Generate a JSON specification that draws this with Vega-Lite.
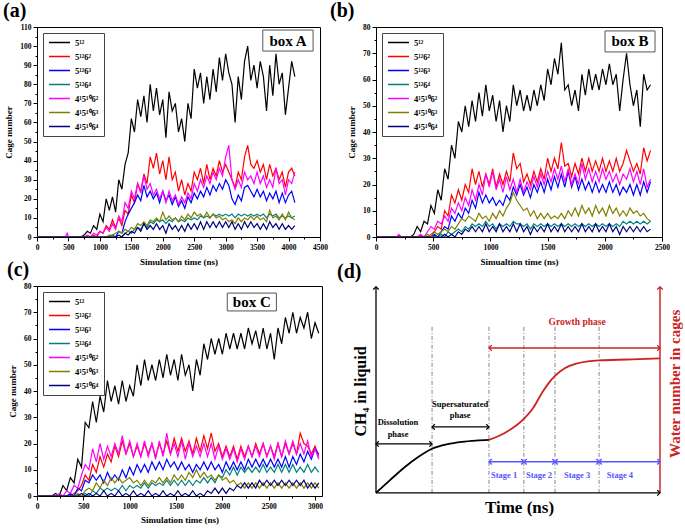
{
"$schema": "https://vega.github.io/schema/vega-lite/v6.json",
"background": "white",
"padding": {"left": 2, "top": 0, "right": 0, "bottom": 0},
"columns": 2,
"bounds": "flush",
"spacing": {"row": 49, "column": 54},
"resolve": {"scale": {"color": "independent"}, "legend": {"color": "independent"}},
"config": {
  "font": "Liberation Serif",
  "view": {"stroke": "black", "strokeWidth": 1},
  "axis": {"labelFont": "Liberation Serif", "labelFontWeight": "bold", "labelFontSize": 7.5, "labelColor": "black", "titleFont": "Liberation Serif", "titleFontWeight": "bold", "titleFontSize": 9, "titleColor": "black", "domainColor": "black", "tickColor": "black", "grid": false, "labelPadding": 2, "labelFlush": false, "labelOverlap": false},
  "axisX": {"titlePadding": 7},
  "axisY": {"titlePadding": 6},
  "legend": {"orient": "top-left", "offset": 6, "strokeColor": "#444", "fillColor": "white", "padding": 5, "labelFont": "Liberation Serif", "labelFontWeight": "bold", "labelFontSize": 8.5, "labelColor": "black", "symbolStrokeWidth": 1.5, "symbolSize": 440, "clipHeight": 9, "rowPadding": 5, "labelOffset": 4},
  "title": {"font": "Liberation Serif", "fontWeight": "bold", "fontSize": 20, "anchor": "start", "frame": "group", "color": "black"}
},
"datasets": {
"a": [
{"x":0,"k":0,"r":0,"b":0,"c":0,"m":0,"o":0,"n":0},
{"x":450,"k":0,"r":0,"b":0,"c":0,"m":0,"o":0,"n":0},
{"x":480,"k":0,"r":0,"b":0,"c":0,"m":2,"o":0,"n":0},
{"x":500,"k":0,"r":0,"b":0,"c":0,"m":0,"o":0,"n":0},
{"x":700,"k":0,"r":0,"b":0,"c":0,"m":0,"o":0,"n":0},
{"x":750,"k":1,"r":0,"b":0,"c":0,"m":0,"o":0,"n":0},
{"x":800,"k":3,"r":0,"b":0,"c":0,"m":1,"o":0,"n":0},
{"x":850,"k":2,"r":0,"b":0,"c":0,"m":0,"o":0,"n":0},
{"x":900,"k":6,"r":1,"b":0,"c":0,"m":2,"o":0,"n":0},
{"x":950,"k":4,"r":0,"b":0,"c":0,"m":1,"o":0,"n":0},
{"x":1000,"k":12,"r":3,"b":0,"c":0,"m":3,"o":0,"n":0},
{"x":1050,"k":8,"r":2,"b":0,"c":0,"m":2,"o":0,"n":0},
{"x":1100,"k":20,"r":6,"b":0,"c":0,"m":5,"o":0,"n":0},
{"x":1150,"k":14,"r":4,"b":0,"c":0,"m":3,"o":1,"n":0},
{"x":1200,"k":21,"r":9,"b":1,"c":0,"m":7,"o":1,"n":0},
{"x":1250,"k":13,"r":5,"b":0,"c":0,"m":4,"o":2,"n":0},
{"x":1300,"k":30,"r":10,"b":3,"c":1,"m":11,"o":3,"n":1},
{"x":1350,"k":25,"r":6,"b":2,"c":0,"m":8,"o":2,"n":0},
{"x":1400,"k":38,"r":14,"b":8,"c":2,"m":18,"o":4,"n":2},
{"x":1450,"k":44,"r":12,"b":12,"c":3,"m":15,"o":3,"n":1},
{"x":1500,"k":62,"r":22,"b":15,"c":2,"m":24,"o":5,"n":3},
{"x":1550,"k":55,"r":18,"b":18,"c":4,"m":20,"o":4,"n":2},
{"x":1600,"k":72,"r":28,"b":22,"c":5,"m":28,"o":7,"n":5},
{"x":1650,"k":63,"r":24,"b":19,"c":4,"m":23,"o":6,"n":3},
{"x":1700,"k":74,"r":33,"b":27,"c":7,"m":32,"o":8,"n":7},
{"x":1750,"k":60,"r":28,"b":21,"c":5,"m":25,"o":6,"n":4},
{"x":1800,"k":80,"r":42,"b":24,"c":8,"m":28,"o":9,"n":6},
{"x":1850,"k":66,"r":36,"b":20,"c":7,"m":22,"o":8,"n":4},
{"x":1900,"k":78,"r":44,"b":23,"c":9,"m":25,"o":10,"n":7},
{"x":1950,"k":64,"r":33,"b":18,"c":8,"m":20,"o":8,"n":4},
{"x":2000,"k":72,"r":40,"b":24,"c":9,"m":24,"o":13,"n":6},
{"x":2050,"k":52,"r":30,"b":19,"c":7,"m":18,"o":9,"n":2},
{"x":2100,"k":76,"r":42,"b":22,"c":9,"m":24,"o":11,"n":7},
{"x":2150,"k":66,"r":30,"b":17,"c":8,"m":19,"o":9,"n":4},
{"x":2200,"k":70,"r":34,"b":21,"c":10,"m":22,"o":10,"n":6},
{"x":2250,"k":55,"r":24,"b":16,"c":8,"m":17,"o":8,"n":3},
{"x":2300,"k":62,"r":30,"b":19,"c":9,"m":21,"o":11,"n":6},
{"x":2350,"k":50,"r":22,"b":15,"c":8,"m":18,"o":9,"n":3},
{"x":2400,"k":70,"r":28,"b":21,"c":10,"m":23,"o":12,"n":7},
{"x":2450,"k":62,"r":24,"b":18,"c":9,"m":20,"o":10,"n":4},
{"x":2500,"k":88,"r":34,"b":23,"c":10,"m":28,"o":13,"n":7},
{"x":2550,"k":78,"r":30,"b":20,"c":9,"m":24,"o":11,"n":4},
{"x":2600,"k":86,"r":36,"b":24,"c":11,"m":30,"o":12,"n":8},
{"x":2650,"k":70,"r":28,"b":21,"c":10,"m":26,"o":10,"n":4},
{"x":2700,"k":84,"r":38,"b":26,"c":11,"m":32,"o":13,"n":8},
{"x":2750,"k":72,"r":30,"b":22,"c":10,"m":28,"o":10,"n":5},
{"x":2800,"k":88,"r":36,"b":27,"c":12,"m":34,"o":12,"n":8},
{"x":2850,"k":76,"r":32,"b":24,"c":11,"m":30,"o":10,"n":5},
{"x":2900,"k":94,"r":40,"b":28,"c":12,"m":36,"o":11,"n":8},
{"x":2950,"k":82,"r":34,"b":25,"c":11,"m":32,"o":9,"n":5},
{"x":3000,"k":96,"r":38,"b":30,"c":12,"m":42,"o":10,"n":8},
{"x":3050,"k":86,"r":34,"b":27,"c":11,"m":48,"o":8,"n":5},
{"x":3100,"k":80,"r":30,"b":20,"c":12,"m":30,"o":9,"n":8},
{"x":3150,"k":60,"r":26,"b":17,"c":10,"m":25,"o":7,"n":4},
{"x":3200,"k":84,"r":34,"b":22,"c":12,"m":30,"o":10,"n":7},
{"x":3250,"k":72,"r":30,"b":19,"c":11,"m":26,"o":8,"n":4},
{"x":3300,"k":92,"r":42,"b":26,"c":12,"m":34,"o":10,"n":8},
{"x":3350,"k":100,"r":48,"b":27,"c":11,"m":30,"o":9,"n":5},
{"x":3400,"k":82,"r":38,"b":24,"c":12,"m":32,"o":11,"n":8},
{"x":3450,"k":90,"r":36,"b":21,"c":11,"m":28,"o":9,"n":5},
{"x":3500,"k":78,"r":40,"b":25,"c":12,"m":34,"o":11,"n":7},
{"x":3550,"k":92,"r":34,"b":21,"c":11,"m":28,"o":9,"n":4},
{"x":3600,"k":84,"r":38,"b":24,"c":12,"m":32,"o":10,"n":7},
{"x":3650,"k":66,"r":30,"b":19,"c":10,"m":26,"o":8,"n":4},
{"x":3700,"k":90,"r":38,"b":23,"c":12,"m":30,"o":14,"n":8},
{"x":3750,"k":74,"r":32,"b":20,"c":11,"m":26,"o":10,"n":5},
{"x":3800,"k":96,"r":36,"b":24,"c":12,"m":36,"o":11,"n":7},
{"x":3850,"k":80,"r":30,"b":18,"c":10,"m":28,"o":9,"n":4},
{"x":3900,"k":86,"r":34,"b":23,"c":11,"m":30,"o":12,"n":7},
{"x":3950,"k":64,"r":26,"b":18,"c":10,"m":22,"o":9,"n":4},
{"x":4000,"k":78,"r":34,"b":22,"c":11,"m":30,"o":13,"n":6},
{"x":4050,"k":92,"r":36,"b":24,"c":10,"m":28,"o":10,"n":4},
{"x":4100,"k":84,"r":32,"b":18,"c":11,"m":34,"o":9,"n":6}
],
"b": [
{"x":0,"k":0,"r":0,"b":0,"c":0,"m":0,"o":0,"n":0},
{"x":180,"k":0,"r":0,"b":0,"c":0,"m":0,"o":0,"n":0},
{"x":200,"k":0,"r":0,"b":0,"c":0,"m":1,"o":0,"n":0},
{"x":220,"k":0,"r":0,"b":0,"c":0,"m":0,"o":0,"n":0},
{"x":300,"k":0,"r":0,"b":0,"c":0,"m":0,"o":0,"n":0},
{"x":330,"k":1,"r":0,"b":0,"c":0,"m":0,"o":0,"n":0},
{"x":360,"k":4,"r":0,"b":0,"c":0,"m":0,"o":0,"n":0},
{"x":390,"k":2,"r":0,"b":0,"c":0,"m":1,"o":0,"n":0},
{"x":420,"k":6,"r":0,"b":0,"c":0,"m":0,"o":0,"n":0},
{"x":450,"k":5,"r":0,"b":0,"c":0,"m":2,"o":1,"n":0},
{"x":480,"k":12,"r":1,"b":0,"c":0,"m":4,"o":0,"n":0},
{"x":510,"k":9,"r":2,"b":1,"c":0,"m":3,"o":2,"n":0},
{"x":540,"k":18,"r":4,"b":0,"c":0,"m":6,"o":1,"n":0},
{"x":570,"k":14,"r":3,"b":2,"c":1,"m":5,"o":2,"n":0},
{"x":600,"k":26,"r":10,"b":4,"c":0,"m":8,"o":3,"n":1},
{"x":630,"k":22,"r":8,"b":3,"c":2,"m":6,"o":2,"n":0},
{"x":660,"k":35,"r":16,"b":8,"c":1,"m":11,"o":4,"n":1},
{"x":690,"k":30,"r":13,"b":6,"c":2,"m":9,"o":3,"n":0},
{"x":720,"k":44,"r":18,"b":9,"c":3,"m":13,"o":5,"n":2},
{"x":750,"k":40,"r":14,"b":7,"c":2,"m":10,"o":7,"n":1},
{"x":780,"k":50,"r":20,"b":11,"c":4,"m":15,"o":6,"n":3},
{"x":810,"k":42,"r":17,"b":9,"c":3,"m":12,"o":8,"n":2},
{"x":840,"k":52,"r":26,"b":14,"c":5,"m":18,"o":7,"n":4},
{"x":870,"k":44,"r":20,"b":11,"c":4,"m":14,"o":6,"n":2},
{"x":900,"k":55,"r":25,"b":17,"c":5,"m":20,"o":9,"n":4},
{"x":930,"k":46,"r":19,"b":13,"c":4,"m":16,"o":7,"n":2},
{"x":960,"k":58,"r":24,"b":16,"c":6,"m":24,"o":8,"n":5},
{"x":990,"k":48,"r":20,"b":13,"c":4,"m":19,"o":6,"n":2},
{"x":1020,"k":54,"r":26,"b":15,"c":5,"m":25,"o":9,"n":4},
{"x":1050,"k":44,"r":19,"b":12,"c":3,"m":18,"o":7,"n":2},
{"x":1080,"k":52,"r":24,"b":14,"c":5,"m":22,"o":10,"n":5},
{"x":1110,"k":40,"r":20,"b":12,"c":4,"m":17,"o":8,"n":2},
{"x":1140,"k":50,"r":25,"b":16,"c":5,"m":23,"o":11,"n":4},
{"x":1170,"k":44,"r":21,"b":14,"c":4,"m":18,"o":13,"n":2},
{"x":1200,"k":58,"r":32,"b":19,"c":6,"m":22,"o":17,"n":5},
{"x":1230,"k":50,"r":26,"b":16,"c":5,"m":17,"o":14,"n":2},
{"x":1260,"k":56,"r":28,"b":20,"c":5,"m":22,"o":12,"n":5},
{"x":1290,"k":48,"r":21,"b":16,"c":4,"m":17,"o":10,"n":2},
{"x":1320,"k":54,"r":24,"b":19,"c":5,"m":21,"o":11,"n":4},
{"x":1350,"k":48,"r":20,"b":15,"c":3,"m":18,"o":8,"n":1},
{"x":1380,"k":56,"r":25,"b":20,"c":5,"m":23,"o":10,"n":4},
{"x":1410,"k":50,"r":21,"b":17,"c":4,"m":19,"o":7,"n":2},
{"x":1440,"k":58,"r":26,"b":21,"c":5,"m":24,"o":9,"n":4},
{"x":1470,"k":52,"r":22,"b":17,"c":4,"m":20,"o":7,"n":2},
{"x":1500,"k":64,"r":30,"b":22,"c":5,"m":25,"o":9,"n":5},
{"x":1530,"k":58,"r":25,"b":18,"c":4,"m":21,"o":7,"n":2},
{"x":1560,"k":68,"r":30,"b":23,"c":5,"m":26,"o":8,"n":4},
{"x":1590,"k":62,"r":26,"b":19,"c":4,"m":22,"o":7,"n":2},
{"x":1620,"k":74,"r":36,"b":24,"c":5,"m":27,"o":9,"n":5},
{"x":1650,"k":56,"r":27,"b":19,"c":4,"m":21,"o":7,"n":2},
{"x":1680,"k":58,"r":28,"b":25,"c":5,"m":26,"o":10,"n":4},
{"x":1710,"k":50,"r":23,"b":19,"c":4,"m":20,"o":8,"n":2},
{"x":1740,"k":56,"r":28,"b":23,"c":5,"m":24,"o":11,"n":4},
{"x":1770,"k":48,"r":24,"b":18,"c":4,"m":20,"o":8,"n":2},
{"x":1800,"k":62,"r":30,"b":22,"c":5,"m":28,"o":12,"n":5},
{"x":1830,"k":54,"r":25,"b":18,"c":4,"m":22,"o":9,"n":2},
{"x":1860,"k":64,"r":30,"b":21,"c":5,"m":26,"o":11,"n":4},
{"x":1890,"k":56,"r":25,"b":17,"c":4,"m":21,"o":8,"n":2},
{"x":1920,"k":62,"r":29,"b":21,"c":5,"m":25,"o":12,"n":5},
{"x":1950,"k":56,"r":25,"b":17,"c":4,"m":21,"o":9,"n":2},
{"x":1980,"k":64,"r":30,"b":20,"c":5,"m":26,"o":11,"n":4},
{"x":2010,"k":58,"r":25,"b":17,"c":4,"m":22,"o":8,"n":2},
{"x":2040,"k":66,"r":29,"b":21,"c":5,"m":25,"o":12,"n":5},
{"x":2070,"k":58,"r":25,"b":17,"c":4,"m":21,"o":9,"n":2},
{"x":2100,"k":62,"r":30,"b":20,"c":5,"m":24,"o":11,"n":4},
{"x":2130,"k":48,"r":25,"b":16,"c":4,"m":20,"o":8,"n":1},
{"x":2160,"k":60,"r":28,"b":19,"c":6,"m":24,"o":10,"n":4},
{"x":2190,"k":70,"r":33,"b":17,"c":5,"m":22,"o":8,"n":2},
{"x":2220,"k":58,"r":29,"b":20,"c":6,"m":26,"o":11,"n":4},
{"x":2250,"k":50,"r":25,"b":16,"c":5,"m":21,"o":9,"n":2},
{"x":2280,"k":56,"r":28,"b":20,"c":6,"m":25,"o":10,"n":4},
{"x":2310,"k":42,"r":24,"b":16,"c":5,"m":20,"o":8,"n":2},
{"x":2340,"k":62,"r":34,"b":21,"c":6,"m":26,"o":9,"n":4},
{"x":2370,"k":56,"r":29,"b":17,"c":5,"m":19,"o":7,"n":2},
{"x":2400,"k":58,"r":33,"b":21,"c":6,"m":22,"o":6,"n":3}
],
"c": [
{"x":0,"k":0,"r":0,"b":0,"c":0,"m":0,"o":0,"n":0},
{"x":160,"k":0,"r":0,"b":0,"c":0,"m":0,"o":0,"n":0},
{"x":200,"k":1,"r":0,"b":0,"c":0,"m":0,"o":0,"n":0},
{"x":240,"k":0,"r":0,"b":0,"c":0,"m":1,"o":0,"n":0},
{"x":280,"k":4,"r":0,"b":0,"c":0,"m":0,"o":0,"n":0},
{"x":320,"k":2,"r":0,"b":0,"c":0,"m":2,"o":0,"n":0},
{"x":360,"k":7,"r":0,"b":1,"c":0,"m":1,"o":0,"n":0},
{"x":400,"k":5,"r":1,"b":0,"c":0,"m":4,"o":0,"n":0},
{"x":440,"k":14,"r":2,"b":3,"c":0,"m":3,"o":1,"n":0},
{"x":480,"k":11,"r":4,"b":2,"c":0,"m":8,"o":0,"n":1},
{"x":520,"k":28,"r":8,"b":6,"c":1,"m":12,"o":2,"n":0},
{"x":560,"k":26,"r":6,"b":5,"c":0,"m":10,"o":3,"n":1},
{"x":600,"k":36,"r":12,"b":8,"c":2,"m":18,"o":2,"n":0},
{"x":640,"k":28,"r":9,"b":6,"c":1,"m":13,"o":5,"n":1},
{"x":680,"k":38,"r":15,"b":8,"c":3,"m":20,"o":3,"n":0},
{"x":720,"k":32,"r":11,"b":5,"c":2,"m":14,"o":6,"n":2},
{"x":760,"k":44,"r":16,"b":9,"c":3,"m":19,"o":4,"n":0},
{"x":800,"k":36,"r":13,"b":6,"c":2,"m":15,"o":7,"n":1},
{"x":840,"k":42,"r":19,"b":8,"c":3,"m":20,"o":5,"n":0},
{"x":880,"k":35,"r":15,"b":6,"c":2,"m":16,"o":7,"n":2},
{"x":920,"k":44,"r":21,"b":10,"c":4,"m":23,"o":5,"n":0},
{"x":960,"k":36,"r":16,"b":7,"c":2,"m":16,"o":6,"n":1},
{"x":1000,"k":42,"r":20,"b":11,"c":4,"m":21,"o":7,"n":0},
{"x":1040,"k":38,"r":15,"b":8,"c":3,"m":15,"o":5,"n":2},
{"x":1080,"k":50,"r":19,"b":12,"c":4,"m":20,"o":6,"n":0},
{"x":1120,"k":42,"r":15,"b":9,"c":3,"m":15,"o":4,"n":1},
{"x":1160,"k":52,"r":20,"b":12,"c":5,"m":21,"o":6,"n":0},
{"x":1200,"k":44,"r":16,"b":9,"c":3,"m":15,"o":4,"n":2},
{"x":1240,"k":50,"r":20,"b":13,"c":5,"m":20,"o":6,"n":0},
{"x":1280,"k":44,"r":15,"b":10,"c":4,"m":14,"o":5,"n":1},
{"x":1320,"k":52,"r":20,"b":13,"c":5,"m":21,"o":7,"n":0},
{"x":1360,"k":45,"r":16,"b":10,"c":4,"m":15,"o":5,"n":2},
{"x":1400,"k":54,"r":21,"b":14,"c":6,"m":24,"o":7,"n":0},
{"x":1440,"k":46,"r":16,"b":11,"c":4,"m":16,"o":5,"n":1},
{"x":1480,"k":52,"r":22,"b":13,"c":6,"m":20,"o":8,"n":0},
{"x":1520,"k":44,"r":17,"b":10,"c":4,"m":15,"o":6,"n":2},
{"x":1560,"k":54,"r":22,"b":13,"c":6,"m":21,"o":8,"n":0},
{"x":1600,"k":46,"r":17,"b":10,"c":4,"m":14,"o":6,"n":1},
{"x":1640,"k":50,"r":21,"b":12,"c":6,"m":20,"o":9,"n":0},
{"x":1680,"k":40,"r":16,"b":9,"c":4,"m":15,"o":7,"n":2},
{"x":1720,"k":52,"r":22,"b":12,"c":6,"m":19,"o":10,"n":0},
{"x":1760,"k":46,"r":17,"b":10,"c":5,"m":15,"o":7,"n":1},
{"x":1800,"k":58,"r":23,"b":13,"c":7,"m":20,"o":9,"n":0},
{"x":1840,"k":52,"r":18,"b":10,"c":5,"m":15,"o":7,"n":2},
{"x":1880,"k":60,"r":24,"b":13,"c":7,"m":20,"o":8,"n":1},
{"x":1920,"k":54,"r":17,"b":10,"c":5,"m":14,"o":6,"n":3},
{"x":1960,"k":60,"r":20,"b":12,"c":8,"m":19,"o":8,"n":1},
{"x":2000,"k":54,"r":15,"b":9,"c":7,"m":14,"o":6,"n":3},
{"x":2040,"k":62,"r":19,"b":13,"c":10,"m":18,"o":7,"n":1},
{"x":2080,"k":56,"r":15,"b":10,"c":8,"m":14,"o":5,"n":3},
{"x":2120,"k":62,"r":19,"b":13,"c":11,"m":18,"o":6,"n":2},
{"x":2160,"k":56,"r":14,"b":10,"c":8,"m":13,"o":4,"n":4},
{"x":2200,"k":62,"r":19,"b":13,"c":11,"m":18,"o":5,"n":3},
{"x":2240,"k":56,"r":15,"b":10,"c":9,"m":14,"o":3,"n":5},
{"x":2280,"k":64,"r":19,"b":14,"c":11,"m":19,"o":5,"n":3},
{"x":2320,"k":58,"r":15,"b":11,"c":9,"m":15,"o":3,"n":5},
{"x":2360,"k":63,"r":20,"b":14,"c":11,"m":19,"o":5,"n":3},
{"x":2400,"k":56,"r":16,"b":11,"c":9,"m":15,"o":3,"n":6},
{"x":2440,"k":64,"r":20,"b":14,"c":12,"m":20,"o":5,"n":4},
{"x":2480,"k":56,"r":15,"b":11,"c":9,"m":15,"o":3,"n":6},
{"x":2520,"k":62,"r":19,"b":14,"c":11,"m":19,"o":5,"n":4},
{"x":2560,"k":52,"r":15,"b":11,"c":9,"m":14,"o":3,"n":6},
{"x":2600,"k":64,"r":20,"b":14,"c":12,"m":20,"o":5,"n":4},
{"x":2640,"k":58,"r":15,"b":11,"c":9,"m":15,"o":3,"n":6},
{"x":2680,"k":68,"r":20,"b":15,"c":12,"m":21,"o":5,"n":4},
{"x":2720,"k":62,"r":16,"b":11,"c":9,"m":16,"o":3,"n":6},
{"x":2760,"k":70,"r":20,"b":15,"c":12,"m":21,"o":5,"n":4},
{"x":2800,"k":62,"r":16,"b":12,"c":9,"m":16,"o":3,"n":6},
{"x":2840,"k":68,"r":24,"b":16,"c":11,"m":20,"o":5,"n":4},
{"x":2880,"k":64,"r":20,"b":13,"c":9,"m":16,"o":3,"n":6},
{"x":2920,"k":70,"r":19,"b":17,"c":12,"m":21,"o":5,"n":3},
{"x":2960,"k":60,"r":16,"b":14,"c":9,"m":15,"o":3,"n":5},
{"x":3000,"k":66,"r":19,"b":18,"c":11,"m":18,"o":5,"n":3},
{"x":3040,"k":62,"r":15,"b":16,"c":9,"m":14,"o":3,"n":5}
]
},
"concat": [
{
  "width": 283, "height": 210,
  "title": {"text": "(a)", "dx": -34, "dy": 2},
  "layer": [
    {"data": {"name": "a"},
     "transform": [{"fold": ["k","r","b","c","m","o","n"], "as": ["s","v"]}],
     "mark": {"type": "line", "strokeWidth": 1.2, "clip": true},
     "encoding": {
       "x": {"field": "x", "type": "quantitative", "scale": {"domain": [0,4500], "nice": false},
             "axis": {"title": "Simulation time (ns)", "tickCount": 200, "values": [0,250,500,750,1000,1250,1500,1750,2000,2250,2500,2750,3000,3250,3500,3750,4000,4250,4500], "labelExpr": "datum.value % 500 === 0 ? datum.label : ''", "tickSize": {"condition": {"test": "datum.value % 500 === 0", "value": 4}, "value": 2}, "format": "d"}},
       "y": {"field": "v", "type": "quantitative", "scale": {"domain": [0,110], "nice": false},
             "axis": {"title": "Cage number", "tickCount": 200, "format": "d", "values": [0,5,10,15,20,25,30,35,40,45,50,55,60,65,70,75,80,85,90,95,100,105,110], "labelExpr": "datum.value % 10 === 0 ? datum.label : ''", "tickSize": {"condition": {"test": "datum.value % 10 === 0", "value": 4}, "value": 2}}},
       "color": {"field": "s", "type": "nominal", "scale": {"domain": ["k","r","b","c","m","o","n"], "range": ["#000000","#ff0000","#0000ff","#008080","#ff00ff","#808000","#000080"]}, "legend": {"title": null, "labelExpr": "datum.label=='k'?'5¹²':datum.label=='r'?'5¹²6²':datum.label=='b'?'5¹²6³':datum.label=='c'?'5¹²6⁴':datum.label=='m'?'4¹5¹⁰6²':datum.label=='o'?'4¹5¹⁰6³':'4¹5¹⁰6⁴'"}}
     }},
    {"data": {"values": [{"x1": 3590, "x2": 4390, "y1": 97.4, "y2": 108.4}]},
     "mark": {"type": "rect", "fill": "white", "stroke": "#555", "strokeWidth": 1},
     "encoding": {"x": {"field": "x1", "type": "quantitative"}, "x2": {"field": "x2"}, "y": {"field": "y1", "type": "quantitative"}, "y2": {"field": "y2"}}},
    {"data": {"values": [{"x": 3990, "y": 102.9, "label": "box A"}]},
     "mark": {"type": "text", "font": "Liberation Serif", "fontWeight": "bold", "fontSize": 15, "color": "black", "baseline": "middle"},
     "encoding": {"x": {"field": "x", "type": "quantitative"}, "y": {"field": "y", "type": "quantitative"}, "text": {"field": "label"}}}
  ]
},
{
  "width": 286, "height": 210,
  "title": {"text": "(b)", "dx": -46, "dy": 2},
  "layer": [
    {"data": {"name": "b"},
     "transform": [{"fold": ["k","r","b","c","m","o","n"], "as": ["s","v"]}],
     "mark": {"type": "line", "strokeWidth": 1.2, "clip": true},
     "encoding": {
       "x": {"field": "x", "type": "quantitative", "scale": {"domain": [0,2500], "nice": false},
             "axis": {"title": "Simualtion time (ns)", "tickCount": 200, "values": [0,250,500,750,1000,1250,1500,1750,2000,2250,2500], "labelExpr": "datum.value % 500 === 0 ? datum.label : ''", "tickSize": {"condition": {"test": "datum.value % 500 === 0", "value": 4}, "value": 2}, "format": "d"}},
       "y": {"field": "v", "type": "quantitative", "scale": {"domain": [0,80], "nice": false},
             "axis": {"title": "Cage number", "tickCount": 200, "format": "d", "values": [0,5,10,15,20,25,30,35,40,45,50,55,60,65,70,75,80], "labelExpr": "datum.value % 10 === 0 ? datum.label : ''", "tickSize": {"condition": {"test": "datum.value % 10 === 0", "value": 4}, "value": 2}}},
       "color": {"field": "s", "type": "nominal", "scale": {"domain": ["k","r","b","c","m","o","n"], "range": ["#000000","#ff0000","#0000ff","#008080","#ff00ff","#808000","#000080"]}, "legend": {"title": null, "labelExpr": "datum.label=='k'?'5¹²':datum.label=='r'?'5¹²6²':datum.label=='b'?'5¹²6³':datum.label=='c'?'5¹²6⁴':datum.label=='m'?'4¹5¹⁰6²':datum.label=='o'?'4¹5¹⁰6³':'4¹5¹⁰6⁴'"}}
     }},
    {"data": {"values": [{"x1": 2002, "x2": 2439, "y1": 70.5, "y2": 78.5}]},
     "mark": {"type": "rect", "fill": "white", "stroke": "#555", "strokeWidth": 1},
     "encoding": {"x": {"field": "x1", "type": "quantitative"}, "x2": {"field": "x2"}, "y": {"field": "y1", "type": "quantitative"}, "y2": {"field": "y2"}}},
    {"data": {"values": [{"x": 2220, "y": 74.5, "label": "box B"}]},
     "mark": {"type": "text", "font": "Liberation Serif", "fontWeight": "bold", "fontSize": 15, "color": "black", "baseline": "middle"},
     "encoding": {"x": {"field": "x", "type": "quantitative"}, "y": {"field": "y", "type": "quantitative"}, "text": {"field": "label"}}}
  ]
},
{
  "width": 285, "height": 210,
  "title": {"text": "(c)", "dx": -30, "dy": 2},
  "layer": [
    {"data": {"name": "c"},
     "transform": [{"fold": ["k","r","b","c","m","o","n"], "as": ["s","v"]}],
     "mark": {"type": "line", "strokeWidth": 1.2, "clip": true},
     "encoding": {
       "x": {"field": "x", "type": "quantitative", "scale": {"domain": [0,3075], "nice": false},
             "axis": {"title": "Simulation time (ns)", "tickCount": 200, "values": [0,250,500,750,1000,1250,1500,1750,2000,2250,2500,2750,3000], "labelExpr": "datum.value % 500 === 0 ? datum.label : ''", "tickSize": {"condition": {"test": "datum.value % 500 === 0", "value": 4}, "value": 2}, "format": "d", "titlePadding": 6}},
       "y": {"field": "v", "type": "quantitative", "scale": {"domain": [0,80], "nice": false},
             "axis": {"title": "Cage number", "tickCount": 200, "format": "d", "values": [0,5,10,15,20,25,30,35,40,45,50,55,60,65,70,75,80], "labelExpr": "datum.value % 10 === 0 ? datum.label : ''", "tickSize": {"condition": {"test": "datum.value % 10 === 0", "value": 4}, "value": 2}}},
       "color": {"field": "s", "type": "nominal", "scale": {"domain": ["k","r","b","c","m","o","n"], "range": ["#000000","#ff0000","#0000ff","#008080","#ff00ff","#808000","#000080"]}, "legend": {"title": null, "labelExpr": "datum.label=='k'?'5¹²':datum.label=='r'?'5¹²6²':datum.label=='b'?'5¹²6³':datum.label=='c'?'5¹²6⁴':datum.label=='m'?'4¹5¹⁰6²':datum.label=='o'?'4¹5¹⁰6³':'4¹5¹⁰6⁴'"}}
     }},
    {"data": {"values": [{"x1": 2053, "x2": 2583, "y1": 70.5, "y2": 77.3}]},
     "mark": {"type": "rect", "fill": "white", "stroke": "#555", "strokeWidth": 1},
     "encoding": {"x": {"field": "x1", "type": "quantitative"}, "x2": {"field": "x2"}, "y": {"field": "y1", "type": "quantitative"}, "y2": {"field": "y2"}}},
    {"data": {"values": [{"x": 2318, "y": 73.9, "label": "box C"}]},
     "mark": {"type": "text", "font": "Liberation Serif", "fontWeight": "bold", "fontSize": 15, "color": "black", "baseline": "middle"},
     "encoding": {"x": {"field": "x", "type": "quantitative"}, "y": {"field": "y", "type": "quantitative"}, "text": {"field": "label"}}}
  ]
},
{
  "width": 286, "height": 210,
  "title": {"text": "(d)", "dx": -39, "dy": 2},
  "view": {"stroke": null},
  "encoding": {
    "x": {"type": "quantitative", "scale": {"domain": [0,100], "nice": false}, "axis": {"title": "Time (ns)", "domain": false, "ticks": false, "labels": false, "titleFontSize": 17, "titlePadding": 3}},
    "y": {"type": "quantitative", "scale": {"domain": [-1.5,98.5], "nice": false}, "axis": {"title": "CH₄ in liquid", "domain": false, "ticks": false, "labels": false, "titleFontSize": 16, "titlePadding": 8}}
  },
  "layer": [
    {"data": {"values": [{"x": 19.6, "y1": 0, "y2": 79.5}, {"x": 39.5, "y1": 0, "y2": 79.5}, {"x": 51.7, "y1": 0, "y2": 79.5}, {"x": 62.6, "y1": 0, "y2": 79.5}, {"x": 78.0, "y1": 0, "y2": 79.5}]},
     "mark": {"type": "rule", "color": "#666", "strokeWidth": 0.8, "strokeDash": [4, 2, 1, 2]},
     "encoding": {"x": {"field": "x"}, "y": {"field": "y1"}, "y2": {"field": "y2"}}},
    {"data": {"values": [
       {"x1": 0, "y1": 0, "x2": 99.3, "y2": 0, "g": "k"},
       {"x1": 0, "y1": 0, "x2": 0, "y2": 98.1, "g": "k"},
       {"x1": 99.3, "y1": 0, "x2": 99.3, "y2": 98.1, "g": "r"},
       {"x1": 0, "y1": 23.3, "x2": 19.6, "y2": 23.3, "g": "k"},
       {"x1": 19.6, "y1": 31.4, "x2": 39.5, "y2": 31.4, "g": "k"},
       {"x1": 39.5, "y1": 69, "x2": 99.3, "y2": 69, "g": "r"},
       {"x1": 39.5, "y1": 14.8, "x2": 51.7, "y2": 14.8, "g": "s"},
       {"x1": 51.7, "y1": 14.8, "x2": 62.6, "y2": 14.8, "g": "s"},
       {"x1": 62.6, "y1": 14.8, "x2": 78.0, "y2": 14.8, "g": "s"},
       {"x1": 78.0, "y1": 14.8, "x2": 99.3, "y2": 14.8, "g": "s"}
     ]},
     "mark": {"type": "rule"},
     "encoding": {"x": {"field": "x1"}, "y": {"field": "y1"}, "x2": {"field": "x2"}, "y2": {"field": "y2"},
       "color": {"field": "g", "type": "nominal", "scale": {"domain": ["k","r","s"], "range": ["#000000","#cc2222","#5555ff"]}, "legend": null},
       "strokeWidth": {"field": "g", "type": "nominal", "scale": {"domain": ["k","r","s"], "range": [1.3,1.6,1]}, "legend": null}}},
    {"data": {"values": [
       {"x": 99.3, "y": 0, "h": "r", "g": "k"},
       {"x": 0, "y": 98.1, "h": "u", "g": "k"},
       {"x": 99.3, "y": 98.1, "h": "u", "g": "r"},
       {"x": 0, "y": 23.3, "h": "l", "g": "k"},
       {"x": 19.6, "y": 23.3, "h": "r", "g": "k"},
       {"x": 19.6, "y": 31.4, "h": "l", "g": "k"},
       {"x": 39.5, "y": 31.4, "h": "r", "g": "k"},
       {"x": 39.5, "y": 69, "h": "l", "g": "r"},
       {"x": 99.3, "y": 69, "h": "r", "g": "r"},
       {"x": 39.5, "y": 14.8, "h": "l", "g": "s"},
       {"x": 51.7, "y": 14.8, "h": "r", "g": "s"},
       {"x": 51.7, "y": 14.8, "h": "l", "g": "s"},
       {"x": 62.6, "y": 14.8, "h": "r", "g": "s"},
       {"x": 62.6, "y": 14.8, "h": "l", "g": "s"},
       {"x": 78.0, "y": 14.8, "h": "r", "g": "s"},
       {"x": 78.0, "y": 14.8, "h": "l", "g": "s"},
       {"x": 99.3, "y": 14.8, "h": "r", "g": "s"}
     ]},
     "mark": {"type": "point", "filled": false, "size": 30, "strokeWidth": 1.3, "opacity": 1},
     "encoding": {"x": {"field": "x"}, "y": {"field": "y"},
       "shape": {"field": "h", "type": "nominal", "scale": {"domain": ["l","r","u"], "range": ["M1,-1L0,0L1,1", "M-1,-1L0,0L-1,1", "M-1,1L0,0L1,1"]}, "legend": null},
       "color": {"field": "g", "type": "nominal", "scale": {"domain": ["k","r","s"], "range": ["#000000","#cc2222","#5555ff"]}, "legend": null}}},
    {"data": {"values": [
       {"x": 0, "y": 0, "g": "k"}, {"x": 5, "y": 6.2, "g": "k"}, {"x": 10, "y": 12.2, "g": "k"}, {"x": 15, "y": 17.3, "g": "k"}, {"x": 19.6, "y": 21, "g": "k"}, {"x": 25, "y": 23.2, "g": "k"}, {"x": 30, "y": 24.3, "g": "k"}, {"x": 35, "y": 24.9, "g": "k"}, {"x": 39.5, "y": 25.2, "g": "k"},
       {"x": 39.5, "y": 25.2, "g": "r"}, {"x": 45, "y": 28.5, "g": "r"}, {"x": 51.7, "y": 35.2, "g": "r"}, {"x": 55, "y": 40.5, "g": "r"}, {"x": 58, "y": 47.5, "g": "r"}, {"x": 60.5, "y": 52.5, "g": "r"}, {"x": 62.6, "y": 55.7, "g": "r"}, {"x": 66, "y": 59.3, "g": "r"}, {"x": 70, "y": 61.5, "g": "r"}, {"x": 74, "y": 62.6, "g": "r"}, {"x": 78, "y": 63.1, "g": "r"}, {"x": 88, "y": 63.5, "g": "r"}, {"x": 99.3, "y": 64.0, "g": "r"}
     ]},
     "mark": {"type": "line", "strokeWidth": 1.8, "interpolate": "monotone"},
     "encoding": {"x": {"field": "x"}, "y": {"field": "y"},
       "color": {"field": "g", "type": "nominal", "scale": {"domain": ["k","r","s"], "range": ["#000000","#cc2222","#5555ff"]}, "legend": null}}},
    {"data": {"values": [
       {"x": 7.7, "y": 33.8, "label": "Dissolution", "g": "k"},
       {"x": 7.7, "y": 28.1, "label": "phase", "g": "k"},
       {"x": 29.4, "y": 42.4, "label": "Supersaturated", "g": "k"},
       {"x": 29.4, "y": 37.1, "label": "phase", "g": "k"},
       {"x": 44.8, "y": 8.6, "label": "Stage 1", "g": "s"},
       {"x": 57.0, "y": 8.6, "label": "Stage 2", "g": "s"},
       {"x": 70.3, "y": 8.6, "label": "Stage 3", "g": "s"},
       {"x": 85.3, "y": 8.6, "label": "Stage 4", "g": "s"}
     ]},
     "mark": {"type": "text", "font": "Liberation Serif", "fontWeight": "bold", "fontSize": 8.5, "baseline": "middle"},
     "encoding": {"x": {"field": "x"}, "y": {"field": "y"}, "text": {"field": "label"},
       "color": {"field": "g", "type": "nominal", "scale": {"domain": ["k","r","s"], "range": ["#000000","#cc2222","#4444ff"]}, "legend": null}}},
    {"data": {"values": [{"x": 70.3, "y": 81.4, "label": "Growth phase"}]},
     "mark": {"type": "text", "font": "Liberation Serif", "fontWeight": "bold", "fontSize": 9.5, "baseline": "middle", "color": "#cc2222"},
     "encoding": {"x": {"field": "x"}, "y": {"field": "y"}, "text": {"field": "label"}}},
    {"data": {"values": [{"x": 104.5, "y": 51.9, "label": "Water number in cages"}]},
     "mark": {"type": "text", "font": "Liberation Serif", "fontWeight": "bold", "fontSize": 15, "baseline": "middle", "color": "#cc2222", "angle": 270, "clip": false},
     "encoding": {"x": {"field": "x"}, "y": {"field": "y"}, "text": {"field": "label"}}}
  ]
}
]
}
